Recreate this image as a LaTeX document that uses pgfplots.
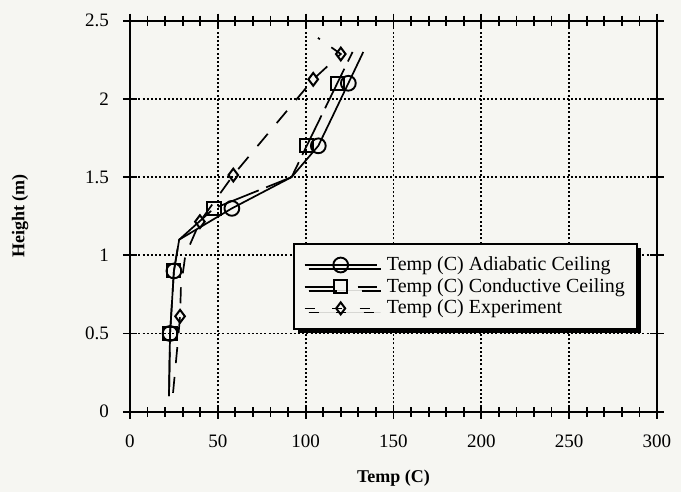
\documentclass[border=0pt]{standalone}
\usepackage{pgfplots}
\pgfplotsset{compat=1.18}
\usepackage{fontspec}
\setmainfont{Liberation Serif}
\usetikzlibrary{shadows}
\definecolor{bg}{RGB}{246,246,242}
\begin{document}
\begin{tikzpicture}
\path[use as bounding box, fill=bg] (-65pt,-40.15pt) rectangle (275.5pt,205.85pt);
\begin{axis}[
  at={(0,0)}, anchor=south west,
  scale only axis, width=263.5pt, height=195.5pt,
  xmin=0, xmax=300, ymin=0, ymax=2.5,
  xtick={0,50,...,300}, ytick={0,0.5,1,1.5,2,2.5},
  minor x tick num=4,
  tick align=center,
  major tick length=7pt, minor tick length=5pt,
  every tick/.style={black, line width=0.9pt},
  axis line style={line width=1.1pt},
  grid=major,
  major grid style={black, line width=0.9pt, dash pattern=on 1pt off 1.1pt},
  /pgf/number format/assume math mode=true,
  /pgf/number format/fixed,
  ticklabel style={font=\fontsize{9.5}{11}\selectfont},
  xticklabel style={yshift=-4.5pt},
  yticklabel style={xshift=-3.5pt},
  xlabel={\textbf{Temp (C)}},
  ylabel={\textbf{Height (m)}},
  label style={font=\fontsize{9}{11}\selectfont},
  xlabel style={at={(axis description cs:0.5,-0.1688)}, anchor=center},
  ylabel style={at={(axis description cs:-0.2087,0.5)}, anchor=center, rotate=0},
  legend cell align=left,
  legend style={at={(rel axis cs:0.309,0.431)}, anchor=north west,
    draw=black, line width=1pt, fill=bg,
    drop shadow={shadow xshift=2pt, shadow yshift=-2pt, fill=black, opacity=1},
    font=\fontsize{10}{11.5}\selectfont,
    inner xsep=5pt, inner ysep=5pt,
    nodes={inner sep=1.2pt},
    column sep=3.5pt, row sep=0pt},
  legend image code/.code={
    \draw[mark repeat=2, mark phase=2, #1] plot coordinates {(0pt,0pt) (18pt,0pt) (36pt,0pt)};
  },
]
% Adiabatic ceiling
\addplot[black, line width=0.85pt, forget plot] coordinates {
 (22.2,0.1) (22.8,0.5) (25,0.9) (28,1.1) (58,1.3) (92,1.5) (107.2,1.7) (115.8,1.9) (124.3,2.1) (132.8,2.3)};
\addplot[black, line width=0.95pt, only marks, mark=o, mark size=3.7pt, forget plot] coordinates {
 (22.8,0.5) (25,0.9) (58,1.3) (107.2,1.7) (124.3,2.1)};
% Conductive ceiling
\addplot[black, line width=0.85pt, dash pattern=on 22pt off 4pt, forget plot] coordinates {
 (22.2,0.1) (22.8,0.5) (25,0.9) (28,1.1) (47.8,1.3) (92,1.5) (100.6,1.7) (109.3,1.9) (118,2.1) (126.7,2.3)};
\addplot[black, line width=0.95pt, only marks, mark=square, mark size=3.3pt, forget plot] coordinates {
 (22.8,0.5) (25,0.9) (47.8,1.3) (100.6,1.7) (118,2.1)};
% Experiment
\addplot[black, line width=0.85pt, dash pattern=on 8pt off 7pt, forget plot] coordinates {
 (24.5,0.12) (27,0.42) (28.5,0.61) (29,0.8) (31.5,1.0) (39.8,1.215) (58.8,1.513) (104.3,2.125) (120,2.287) (107,2.39)};
\addplot[black, line width=1pt, only marks, mark=diamond, mark size=3.2pt, forget plot] coordinates {
 (28.5,0.61) (39.8,1.215) (58.8,1.513) (104.3,2.125) (120,2.287)};
\addlegendimage{black, line width=0.85pt, mark=o, mark size=3.7pt, mark options={solid, line width=0.95pt}}
\addlegendentry{Temp (C) Adiabatic Ceiling}
\addlegendimage{black, line width=0.85pt, dash pattern=on 14pt off 12.5pt, mark=square, mark size=3.3pt, mark options={solid, line width=0.95pt}}
\addlegendentry{Temp (C) Conductive Ceiling\hspace{5pt}}
\addlegendimage{black, line width=0.85pt, dash pattern=on 5pt off 8.75pt, mark=diamond, mark size=3pt, mark options={solid, line width=1pt}}
\addlegendentry{Temp (C) Experiment}
\end{axis}
\end{tikzpicture}
\end{document}
